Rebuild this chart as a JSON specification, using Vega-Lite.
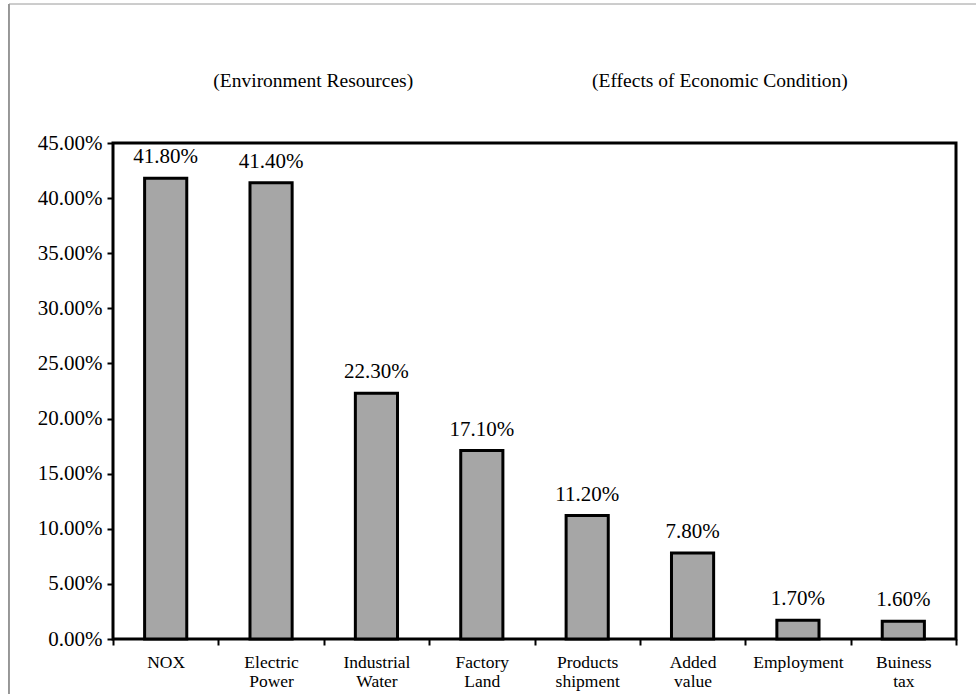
{
  "$schema": "https://vega.github.io/schema/vega-lite/v6.json",
  "autosize": {"type": "none"},
  "width": 843,
  "height": 496,
  "padding": {"left": 113, "top": 143, "right": 20, "bottom": 55},
  "background": "#ffffff",
  "config": {
    "font": "Liberation Serif",
    "view": {"stroke": "#000000", "strokeWidth": 3},
    "text": {"font": "Liberation Serif", "color": "#000000"}
  },
  "data": {
    "values": [
      {"item": "NOX", "share": 0.418},
      {"item": "Electric Power", "share": 0.414},
      {"item": "Industrial Water", "share": 0.223},
      {"item": "Factory Land", "share": 0.171},
      {"item": "Products shipment", "share": 0.112},
      {"item": "Added value", "share": 0.078},
      {"item": "Employment", "share": 0.017},
      {"item": "Buiness tax", "share": 0.016}
    ]
  },
  "layer": [
    {
      "mark": {"type": "bar", "fill": "#a6a6a6", "stroke": "#000000", "strokeWidth": 3, "width": {"band": 0.4}},
      "encoding": {
        "x": {
          "field": "item", "type": "nominal", "sort": null,
          "scale": {"type": "band", "paddingInner": 0, "paddingOuter": 0},
          "axis": {
            "title": null, "domain": false, "labelAngle": 0,
            "tickBand": "extent", "tickSize": 6, "tickWidth": 2, "tickColor": "#000000",
            "labelExpr": "split(datum.label, ' ')",
            "labelFont": "Liberation Serif", "labelFontSize": 17.5, "labelLineHeight": 19,
            "labelColor": "#000000", "labelPadding": 8, "labelBaseline": "top"
          }
        },
        "y": {
          "field": "share", "type": "quantitative",
          "scale": {"domain": [0, 0.45], "nice": false},
          "axis": {
            "title": null, "domain": false, "grid": false, "format": ".2%",
            "values": [0, 0.05, 0.1, 0.15, 0.2, 0.25, 0.3, 0.35, 0.4, 0.45],
            "tickSize": 6, "tickWidth": 2, "tickColor": "#000000",
            "labelFont": "Liberation Serif", "labelFontSize": 21, "labelColor": "#000000",
            "labelPadding": 5
          }
        }
      }
    },
    {
      "mark": {"type": "text", "font": "Liberation Serif", "baseline": "alphabetic", "dy": -15, "fontSize": 21},
      "encoding": {
        "x": {"field": "item", "type": "nominal", "sort": null, "title": null},
        "y": {"field": "share", "type": "quantitative", "title": null},
        "text": {"field": "share", "type": "quantitative", "format": ".2%"}
      }
    },
    {
      "data": {"values": [{"heading": "(Environment Resources)"}]},
      "mark": {"type": "text", "font": "Liberation Serif", "baseline": "alphabetic", "fontSize": 19.5, "clip": false},
      "encoding": {
        "x": {"datum": "Electric Power", "bandPosition": 0.9, "title": null},
        "y": {"datum": 0.501, "type": "quantitative", "title": null},
        "text": {"field": "heading"}
      }
    },
    {
      "data": {"values": [{"heading": "(Effects of Economic Condition)"}]},
      "mark": {"type": "text", "font": "Liberation Serif", "baseline": "alphabetic", "fontSize": 19.5, "clip": false},
      "encoding": {
        "x": {"datum": "Added value", "bandPosition": 0.76, "title": null},
        "y": {"datum": 0.501, "type": "quantitative", "title": null},
        "text": {"field": "heading"}
      }
    },
    {
      "data": {"values": [{"edge": "left"}]},
      "mark": {"type": "rule", "stroke": "#333333", "strokeWidth": 1, "clip": false},
      "encoding": {
        "x": {"datum": "NOX", "bandPosition": -0.987, "title": null},
        "y": {"datum": 0.5761, "type": "quantitative", "title": null},
        "y2": {"datum": -0.06}
      }
    },
    {
      "data": {"values": [{"edge": "top"}]},
      "mark": {"type": "rule", "stroke": "#9a9a9a", "strokeWidth": 1, "clip": false},
      "encoding": {
        "x": {"datum": "NOX", "bandPosition": -0.987, "title": null},
        "x2": {"datum": "Buiness tax", "bandPosition": 1.3},
        "y": {"datum": 0.5761, "type": "quantitative", "title": null}
      }
    }
  ]
}
